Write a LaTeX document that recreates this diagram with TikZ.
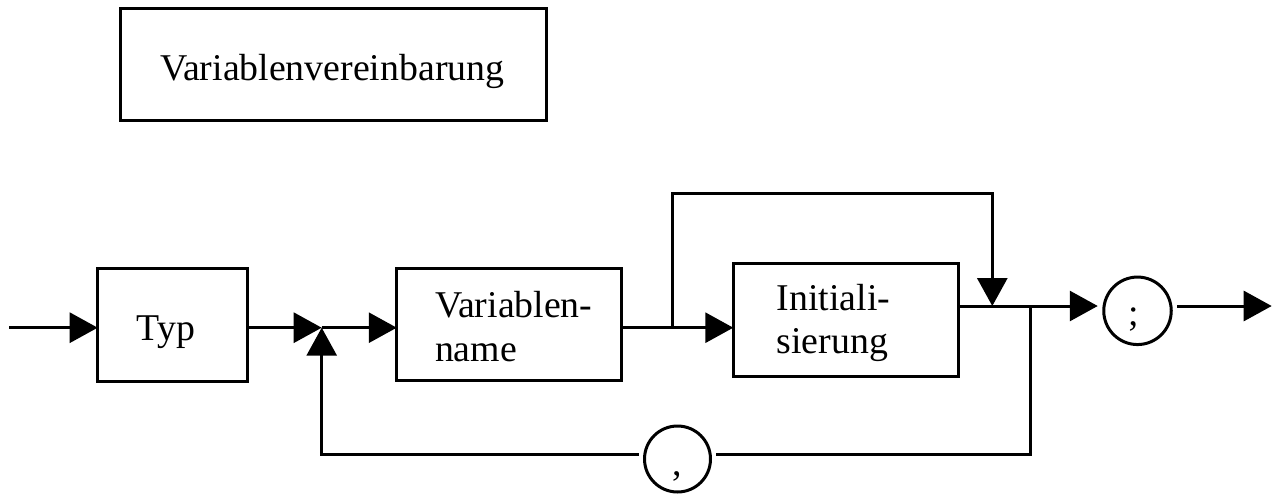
\documentclass[tikz,border=0pt]{standalone}
\usepackage{fontspec}
\setmainfont{Liberation Serif}
\usetikzlibrary{arrows.meta,calc}
\begin{document}
\begin{tikzpicture}[x=0.5pt,y=-0.5pt,
  line width=1.5pt,
  >={Triangle[length=14pt,width=15pt]},
  every node/.style={inner sep=0pt, outer sep=0pt},
  lbl/.style={font=\fontsize{18.9pt}{22pt}\selectfont, anchor=base west},
  sym/.style={font=\fontsize{18.9pt}{22pt}\selectfont, anchor=base},
  box/.style={draw, rectangle},
  term/.style={draw, circle, outer sep=3pt}
  ]
\useasboundingbox (0,0) rectangle (1274,493);
% boxes
\node[box, minimum width=213pt, minimum height=55.85pt] (title) at (333.9,64.2) {};
\node[box, minimum width=74.8pt, minimum height=56.35pt] (typ) at (172.5,324.7) {};
\node[box, minimum width=112.25pt, minimum height=56.1pt] (vname) at (509,324.4) {};
\node[box, minimum width=112.5pt, minimum height=56.65pt] (init) at (845.8,319.7) {};
\node[term, minimum size=33.75pt] (semi) at (1137.5,310.8) {};
\node[term, minimum size=33pt] (comma) at (677.5,459) {};
% texts
\node[lbl] (titletext) at (160,80) {Variablenvereinbarung};
\node[lbl] (typtext) at (136.7,340.7) {Typ};
\node[lbl] (vn1) at (435,317.7) {Variablen-};
\node[lbl] (vn2) at (435,361.7) {name};
\node[lbl] (in1) at (776.7,310) {Initiali-};
\node[lbl] (in2) at (776.7,353.3) {sierung};
\node[sym] (semitext) at (1134,325) {;};
\node[sym] (commatext) at (677.5,475) {,};
% coordinates
\coordinate (start) at (9,327.7);
\coordinate (j1) at (321.7,327.7);
\coordinate (b1) at (672.7,327.7);
\coordinate (top1) at (672.7,193.3);
\coordinate (top2) at (992.3,193.3);
\coordinate (j2) at (992.3,306);
\coordinate (j3) at (1030.7,306);
\coordinate (endc) at (1271.7,306);
% connectors
\draw[->] (start) -- (start -| typ.west);
\draw[->] (start -| typ.east) -- (j1);
\draw[->] (j1) -- (j1 -| vname.west);
\draw[->] (j1 -| vname.east) -- (j1 -| init.west);
\draw[->] (b1) -- (top1) -- (top2) -- (j2);
\draw[->] (j2 -| init.east) -- (j2 -| semi.west);
\draw[->] (j2 -| semi.east) -- (endc);
\draw (j3) -- (j3 |- comma.6) -- (comma.6);
\draw[->] (comma.174) -- (j1 |- comma.174) -- (j1);
\end{tikzpicture}
\end{document}
